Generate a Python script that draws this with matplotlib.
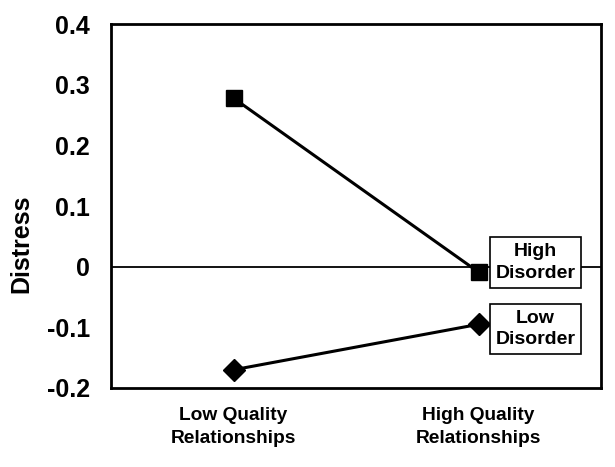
import matplotlib.pyplot as plt
import numpy as np

plt.rcParams['font.family'] = ['Liberation Sans', 'DejaVu Sans']
plt.rcParams['font.weight'] = 'bold'

categories = ['Low Quality\nRelationships', 'High Quality\nRelationships']
high_disorder = [0.278, -0.009]
low_disorder = [-0.17, -0.095]
yticks = [-0.2, -0.1, 0, 0.1, 0.2, 0.3, 0.4]
ytick_labels = ['-0.2', '-0.1', '0', '0.1', '0.2', '0.3', '0.4']

fig = plt.figure(figsize=(6.15, 4.67), dpi=100)
ax = fig.add_axes([0.1805, 0.1692, 0.797, 0.779])

x = np.arange(len(categories))
ax.axhline(0, color='black', lw=1.3, zorder=1)
ax.plot(x, high_disorder, color='black', lw=2.2, marker='s', markersize=12, zorder=3)
ax.plot(x, low_disorder, color='black', lw=2.2, marker='D', markersize=11, zorder=3)

ax.set_xlim(-0.5, 1.5)
ax.set_ylim(-0.2, 0.4)
ax.set_xticks(x)
ax.set_xticklabels(categories, fontsize=13.8, fontweight='bold', linespacing=1.4)
ax.set_yticks(yticks)
ax.set_yticklabels(ytick_labels, fontsize=18, fontweight='bold')
ax.tick_params(length=0)
ax.tick_params(axis='y', pad=15)
ax.tick_params(axis='x', pad=14)
ax.set_ylabel('Distress', fontsize=18, fontweight='bold')
ax.yaxis.set_label_coords(-0.159, 0.397)
for s in ax.spines.values():
    s.set_linewidth(2)

box = dict(boxstyle='square,pad=0.3', facecolor='white', edgecolor='black', lw=1.2)
ax.text(1.232, 0.007, 'High\nDisorder', ha='center', va='center', fontsize=14,
        fontweight='bold', bbox=box, zorder=4, linespacing=1.35)
ax.text(1.232, -0.103, 'Low\nDisorder', ha='center', va='center', fontsize=14,
        fontweight='bold', bbox=box, zorder=4, linespacing=1.35)

fig.savefig('out.png', dpi=100)
